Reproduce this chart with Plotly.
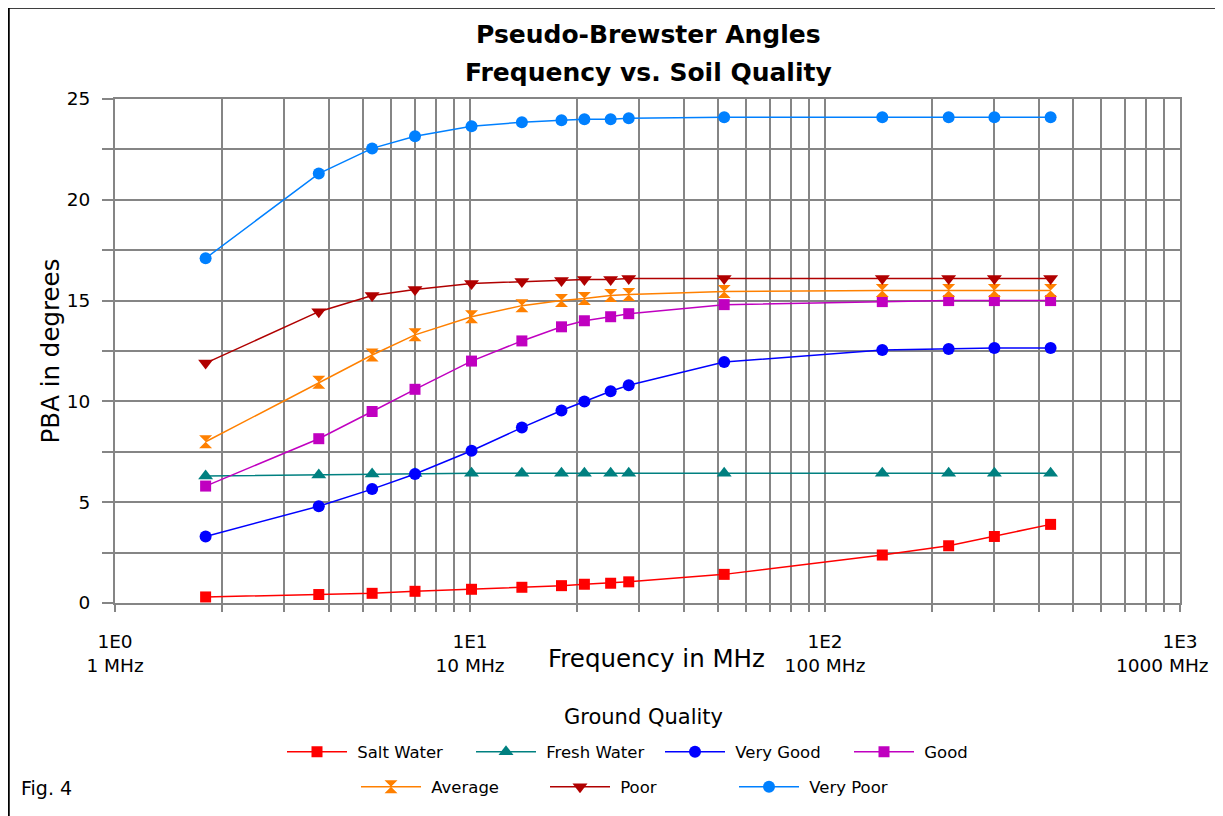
import plotly.graph_objects as go

# ---------------- data ----------------
freq_mhz = [1.8, 3.75, 5.3, 7.0, 10.1, 14.0, 18.1, 21.0, 24.9, 28.0, 52, 145, 223, 300, 432]

series_names = ["Salt Water", "Fresh Water", "Very Good", "Good", "Average", "Poor", "Very Poor"]
salt_water = [0.30, 0.42, 0.48, 0.58, 0.68, 0.78, 0.86, 0.93, 0.98, 1.05, 1.42, 2.38, 2.84, 3.30, 3.90]
fresh_water = [6.30, 6.35, 6.40, 6.42, 6.43, 6.43, 6.43, 6.43, 6.43, 6.43, 6.43, 6.43, 6.43, 6.43, 6.43]
very_good = [3.30, 4.80, 5.65, 6.40, 7.55, 8.70, 9.55, 10.00, 10.50, 10.80, 11.95, 12.55, 12.60, 12.65, 12.65]
good = [5.80, 8.15, 9.50, 10.60, 12.00, 13.00, 13.70, 14.00, 14.20, 14.35, 14.80, 14.95, 15.00, 15.00, 15.00]
average = [8.00, 10.95, 12.30, 13.30, 14.20, 14.75, 15.00, 15.10, 15.25, 15.30, 15.45, 15.50, 15.50, 15.50, 15.50]
poor = [11.90, 14.45, 15.25, 15.55, 15.85, 15.95, 16.00, 16.05, 16.05, 16.10, 16.10, 16.10, 16.10, 16.10, 16.10]
very_poor = [17.10, 21.30, 22.55, 23.15, 23.65, 23.85, 23.95, 24.00, 24.00, 24.05, 24.10, 24.10, 24.10, 24.10, 24.10]

x_tick_vals = [1, 2, 3, 4, 5, 6, 7, 8, 9, 10, 20, 30, 40, 50, 60, 70, 80, 90,
               100, 200, 300, 400, 500, 600, 700, 800, 900, 1000]
x_decade_labels = {1: "1E0<br>1 MHz", 10: "1E1<br>10 MHz", 100: "1E2<br>100 MHz", 1000: "1E3"}
last_decade_unit = "1000 MHz"   # shifted left of its tick so it stays inside the chart, as in the original
y_tick_vals = [0, 2.5, 5, 7.5, 10, 12.5, 15, 17.5, 20, 22.5, 25]
y_tick_text = ["0", "", "5", "", "10", "", "15", "", "20", "", "25"]

title_line1 = "Pseudo-Brewster Angles"
title_line2 = "Frequency vs. Soil Quality"
x_title = "Frequency in MHz"
y_title = "PBA in degrees"
legend_title = "Ground Quality"
fig_label = "Fig. 4"

# ---------------- styles ----------------
values = [salt_water, fresh_water, very_good, good, average, poor, very_poor]
colors = ["#FF0000", "#008080", "#0000FF", "#C000C0", "#FF8000", "#B00000", "#0080FF"]
symbols = ["square", "triangle-up", "circle", "square", "hourglass", "triangle-down", "circle"]
sizes = [11, 13, 12, 11, 13, 13, 12]
legends = ["legend", "legend", "legend", "legend", "legend2", "legend2", "legend2"]

FONT = "DejaVu Sans"
GRID = "#858585"

fig = go.Figure()
for name, vals, c, s, sz, lg in zip(series_names, values, colors, symbols, sizes, legends):
    fig.add_trace(go.Scatter(
        x=freq_mhz, y=vals, name="\u00a0" + name, mode="lines+markers",
        line=dict(color=c, width=1.5),
        marker=dict(color=c, symbol=s, size=sz, line=dict(width=0)),
        legend=lg,
    ))

# the html page body has an 8px margin, so the figure is drawn 8px in from the window edge
OFF = 8
W, H = 1223 - OFF, 816 - OFF
L, R, T, B = 115 - OFF, 43, 99 - OFF, 213
pw, ph = W - L - R, H - T - B


def px_x(px):
    return (px - OFF - L) / pw


def px_y(py):
    return (H - B - (py - OFF)) / ph


leg_common = dict(orientation="h", xanchor="left", yanchor="middle",
                  entrywidth=114, entrywidthmode="pixels", itemwidth=60,
                  font=dict(family=FONT, size=16.5, color="black"),
                  bgcolor="rgba(0,0,0,0)", traceorder="normal")

fig.update_layout(
    width=W, height=H, autosize=False,
    margin=dict(l=L, r=R, t=T, b=B, pad=0, autoexpand=False),
    paper_bgcolor="white", plot_bgcolor="white",
    font=dict(family=FONT, color="black"),
    showlegend=True,
    legend=dict(x=px_x(282), y=px_y(752), **leg_common),
    legend2=dict(x=px_x(356), y=px_y(787), **leg_common),
)

fig.update_xaxes(
    type="log", range=[0, 3], automargin=False,
    tickvals=x_tick_vals,
    ticktext=[x_decade_labels.get(v, "") for v in x_tick_vals],
    ticks="outside", ticklen=7, tickwidth=2, tickcolor=GRID,
    ticklabelstandoff=14, ticklabeloverflow="allow",
    showgrid=True, gridcolor=GRID, gridwidth=2,
    showline=True, linecolor=GRID, linewidth=2, mirror=True,
    zeroline=False,
    tickfont=dict(family=FONT, size=18.5, color="black"),
)
fig.update_yaxes(
    range=[0, 25], automargin=False,
    tickvals=y_tick_vals, ticktext=y_tick_text,
    ticks="outside", ticklen=11, tickwidth=2, tickcolor=GRID,
    ticklabelstandoff=8,
    showgrid=True, gridcolor=GRID, gridwidth=2,
    showline=True, linecolor=GRID, linewidth=2, mirror=True,
    zeroline=False,
    tickfont=dict(family=FONT, size=18.5, color="black"),
    title=dict(text=y_title, font=dict(family=FONT, size=24.5, color="black"), standoff=0),
)

annotations = [
    dict(text="<b>" + title_line1 + "</b>", x=px_x(648), y=px_y(34), font=dict(family=FONT, size=25)),
    dict(text="<b>" + title_line2 + "</b>", x=px_x(648), y=px_y(73), font=dict(family=FONT, size=25)),
    dict(text=x_title, x=px_x(656), y=px_y(658), font=dict(family=FONT, size=24.5)),
    dict(text=last_decade_unit, x=px_x(1211), y=px_y(665), xanchor="right",
         font=dict(family=FONT, size=18.5)),
    dict(text=legend_title, x=px_x(643), y=px_y(717), font=dict(family=FONT, size=21)),
    dict(text=fig_label, x=px_x(19), y=px_y(788), xanchor="left", font=dict(family=FONT, size=19)),
]
for a in annotations:
    a.setdefault("xanchor", "center")
    fig.add_annotation(xref="paper", yref="paper", showarrow=False, yanchor="middle",
                       **a)

# outer black frame of the chart area (left and top edges visible)
fig.add_shape(type="rect", xref="paper", yref="paper",
              x0=px_x(8.5), x1=px_x(1260), y0=px_y(860), y1=px_y(7.5),
              line=dict(color="black", width=2.5), fillcolor="rgba(0,0,0,0)", layer="below")

fig.write_html("out.html")
